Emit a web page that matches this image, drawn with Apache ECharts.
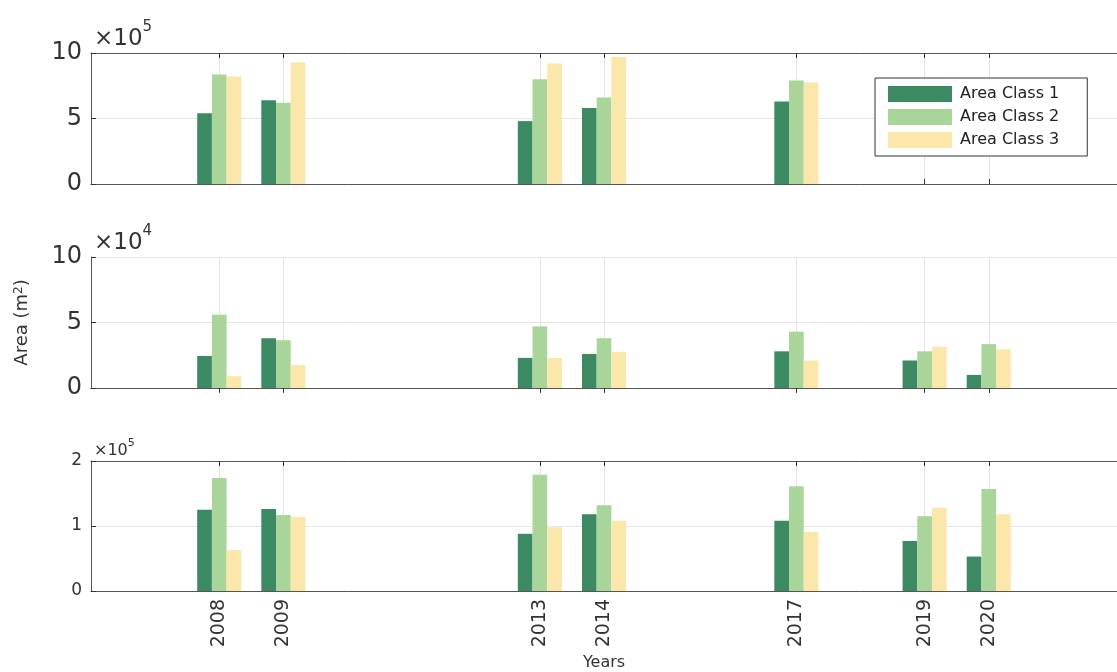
<!DOCTYPE html>
<html>
<head>
<meta charset="utf-8">
<script src="https://cdn.jsdelivr.net/npm/echarts@6/dist/echarts.min.js"></script>
<style>
  html, body { margin: 0; padding: 0; background: #fff; }
  #chart { width: 1117px; height: 672px; }
</style>
</head>
<body>
<div id="chart"></div>
<script>
// Survey years that carry measurements
const years = [2008, 2009, 2013, 2014, 2017, 2019, 2020];
// Full span of the horizontal axis
const axisYears = ['2006', '2007', '2008', '2009', '2010', '2011', '2012', '2013', '2014',
  '2015', '2016', '2017', '2018', '2019', '2020', '2021', '2022'];
const classNames = ['Area Class 1', 'Area Class 2', 'Area Class 3'];

// Upper panel, area in m²
const topClass1 = [540000, 640000, 480000, 580000, 630000, null, null];
const topClass2 = [835000, 620000, 800000, 660000, 790000, null, null];
const topClass3 = [820000, 930000, 920000, 970000, 775000, null, null];

// Middle panel, area in m²
const midClass1 = [24500, 38000, 23000, 26000, 28000, 21000, 10000];
const midClass2 = [56000, 36500, 47000, 38000, 43000, 28000, 33500];
const midClass3 = [9000, 17500, 23000, 27500, 21000, 31500, 29500];

// Lower panel, area in m²
const botClass1 = [125000, 126000, 88000, 118000, 108000, 77000, 53000];
const botClass2 = [174000, 117000, 179000, 132000, 161000, 115000, 157000];
const botClass3 = [63000, 114000, 98000, 108000, 91000, 128000, 118000];

// y-axis ranges and tick steps per panel
const yMax = [1000000, 100000, 200000];
const yStep = [500000, 50000, 100000];
const yScale = [100000, 10000, 100000];
const yExp = ['5', '4', '5'];

const colors = ['#3b8a63', '#a9d59a', '#fbe7aa'];
const FONT = 'DejaVu Sans';
const TEXT = '#333';

const panels = [
  [topClass1, topClass2, topClass3],
  [midClass1, midClass2, midClass3],
  [botClass1, botClass2, botClass3]
];

const isTick = (idx, val) => years.indexOf(Number(val)) >= 0;
const toAxis = arr => axisYears.map(y => {
  const k = years.indexOf(Number(y));
  return k >= 0 ? arr[k] : null;
});

const gridLayout = [
  { top: 53, height: 131 },
  { top: 257, height: 131 },
  { top: 461, height: 133 }
];

const grid = gridLayout.map(g => ({ left: 91, right: -9, top: g.top, height: g.height }));

const xAxis = [];
const yAxis = [];
const series = [];

panels.forEach((panel, i) => {
  const bottom = i === 2;
  xAxis.push({
    type: 'category', gridIndex: i, data: axisYears, boundaryGap: false, position: 'bottom',
    axisLine: { show: true, lineStyle: { color: '#555', width: 1 } },
    axisTick: { show: true, inside: true, length: 5, interval: isTick, lineStyle: { color: '#333' } },
    axisLabel: { show: bottom, interval: isTick, rotate: 90, fontSize: 19, fontFamily: FONT, color: TEXT, margin: 8 },
    splitLine: { show: true, interval: isTick, lineStyle: { color: '#e2e2e2', width: 1 } },
    name: bottom ? 'Years' : '', nameLocation: 'middle', nameGap: 64,
    nameTextStyle: { fontSize: 16, fontFamily: FONT, color: TEXT }
  });
  xAxis.push({
    type: 'category', gridIndex: i, data: axisYears, boundaryGap: false, position: 'top',
    axisLine: { show: true, lineStyle: { color: '#555', width: 1 } },
    axisTick: { show: true, inside: true, length: 5, interval: isTick, lineStyle: { color: '#333' } },
    axisLabel: { show: false },
    splitLine: { show: false }
  });
  const big = i < 2;
  yAxis.push({
    type: 'value', gridIndex: i, min: 0, max: yMax[i], interval: yStep[i],
    axisLine: { show: true, lineStyle: { color: '#555', width: 1 } },
    axisTick: { show: true, inside: true, length: 5, lineStyle: { color: '#333' } },
    axisLabel: {
      fontSize: big ? 24 : 17, fontFamily: FONT, color: TEXT, margin: 9,
      formatter: v => String(v / yScale[i])
    },
    splitLine: { show: true, lineStyle: { color: '#e6e6e6', width: 1 } },
    name: '{b|×10}{s|' + yExp[i] + '}',
    nameLocation: 'end', nameGap: 2,
    nameTextStyle: {
      align: 'left', verticalAlign: 'bottom', padding: [0, 0, 0, 3],
      rich: {
        b: { fontSize: big ? 23 : 16, fontFamily: FONT, color: TEXT, padding: [big ? 8 : 5, 0, 0, 0] },
        s: { fontSize: big ? 15 : 11, fontFamily: FONT, color: TEXT, verticalAlign: 'top' }
      }
    }
  });
  panel.forEach((vals, c) => {
    series.push({
      type: 'bar', name: classNames[c], xAxisIndex: 2 * i, yAxisIndex: i,
      data: toAxis(vals), barWidth: 14.7, barGap: '0%',
      itemStyle: { color: colors[c] }
    });
  });
});

// shared y-axis title on the middle panel
yAxis.push({
  type: 'value', gridIndex: 1, min: 0, max: yMax[1], position: 'left',
  axisLine: { show: false }, axisTick: { show: false }, axisLabel: { show: false },
  splitLine: { show: false },
  name: '{n|Area (m}{s|2}{n|)}', nameLocation: 'middle', nameGap: 60,
  nameTextStyle: {
    rich: {
      n: { fontSize: 18, fontFamily: FONT, color: TEXT },
      s: { fontSize: 12, fontFamily: FONT, color: TEXT, verticalAlign: 'top' }
    }
  }
});

const chart = echarts.init(document.getElementById('chart'), null, { renderer: 'canvas' });
chart.setOption({
  animation: false,
  backgroundColor: '#fff',
  grid, xAxis, yAxis, series,
  legend: {
    data: classNames, orient: 'vertical', left: 875, top: 78,
    itemWidth: 64, itemHeight: 16, itemGap: 7, icon: 'rect',
    padding: [8, 28, 8, 13],
    borderColor: '#333', borderWidth: 1, backgroundColor: '#fff',
    textStyle: { fontSize: 16, fontFamily: FONT, color: '#222', padding: [0, 0, 0, 3] }
  }
});
</script>
</body>
</html>
